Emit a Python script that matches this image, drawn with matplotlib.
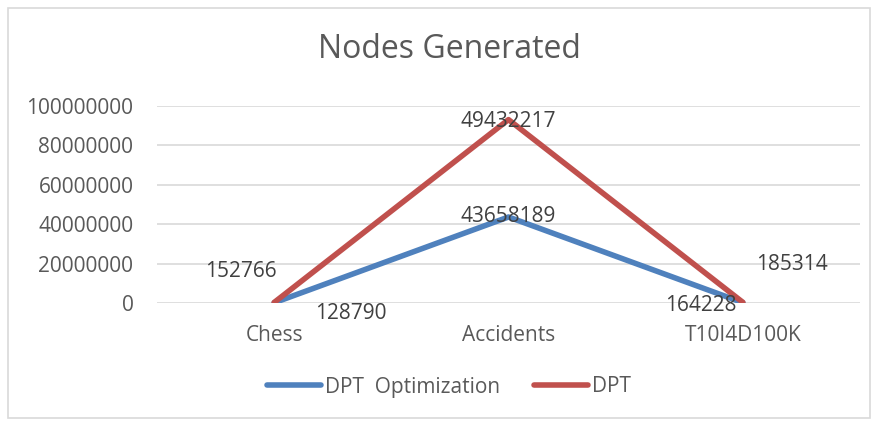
import matplotlib.pyplot as plt
from matplotlib.patches import Rectangle

plt.rcParams["font.family"] = ["Open Sans", "DejaVu Sans"]

categories = ["Chess", "Accidents", "T10I4D100K"]
dpt_opt = [128790, 43658189, 164228]
dpt = [152766, 49432217, 185314]

# stacked line chart: DPT sits on top of DPT Optimization
dpt_stacked = [a + b for a, b in zip(dpt_opt, dpt)]

blue = "#4f81bd"
red = "#c0504d"
text_col = "#595959"
fs = 15

fig = plt.figure(figsize=(8.78, 4.24), dpi=100)
ax = fig.add_axes([157 / 878, 1 - 303 / 424, 703 / 878, 197 / 424])

x = list(range(len(categories)))
ax.plot(x, dpt_opt, color=blue, linewidth=4, solid_capstyle="round", label="DPT  Optimization", zorder=3)
ax.plot(x, dpt_stacked, color=red, linewidth=4, solid_capstyle="round", label="DPT", zorder=3)

ax.set_xlim(-0.5, 2.5)
ax.set_ylim(0, 100000000)
ax.set_yticks(range(0, 100000001, 20000000))
ax.set_yticklabels([str(v) for v in range(0, 100000001, 20000000)])
ax.set_xticks(x)
ax.set_xticklabels(categories)
ax.grid(axis="y", color="#d9d9d9", linewidth=1.2)
ax.set_axisbelow(True)
for s in ax.spines.values():
    s.set_visible(False)
ax.tick_params(length=0, labelsize=fs, colors=text_col, pad=17)
ax.tick_params(axis="x", pad=16)

# data labels
opt_offsets = [(55, -8), (0, 0), (-30, -2)]
dpt_offsets = [(-24, 22), (0, -1), (35, 27)]
for i in x:
    ax.annotate(str(dpt_opt[i]), (i, dpt_opt[i]), xytext=opt_offsets[i], textcoords="offset points",
                ha="center", va="center", fontsize=fs, color="#404040", zorder=4)
    ax.annotate(str(dpt[i]), (i, dpt_stacked[i]), xytext=dpt_offsets[i], textcoords="offset points",
                ha="center", va="center", fontsize=fs, color="#404040", zorder=4)

fig.text(449 / 878, 1 - 50 / 424, "Nodes Generated", ha="center", va="center", fontsize=23, color=text_col)

fig.legend(loc="center", bbox_to_anchor=(449 / 878, 1 - 387 / 424), ncol=2, frameon=False,
           fontsize=fs, handlelength=2.6, columnspacing=1.6, handletextpad=0.2, labelcolor=text_col)

fig.patches.append(Rectangle((8 / 878, 6 / 424), 862 / 878, 410 / 424, transform=fig.transFigure,
                             fill=False, edgecolor="#d9d9d9", linewidth=1.2))

fig.savefig("out.png", dpi=100)
